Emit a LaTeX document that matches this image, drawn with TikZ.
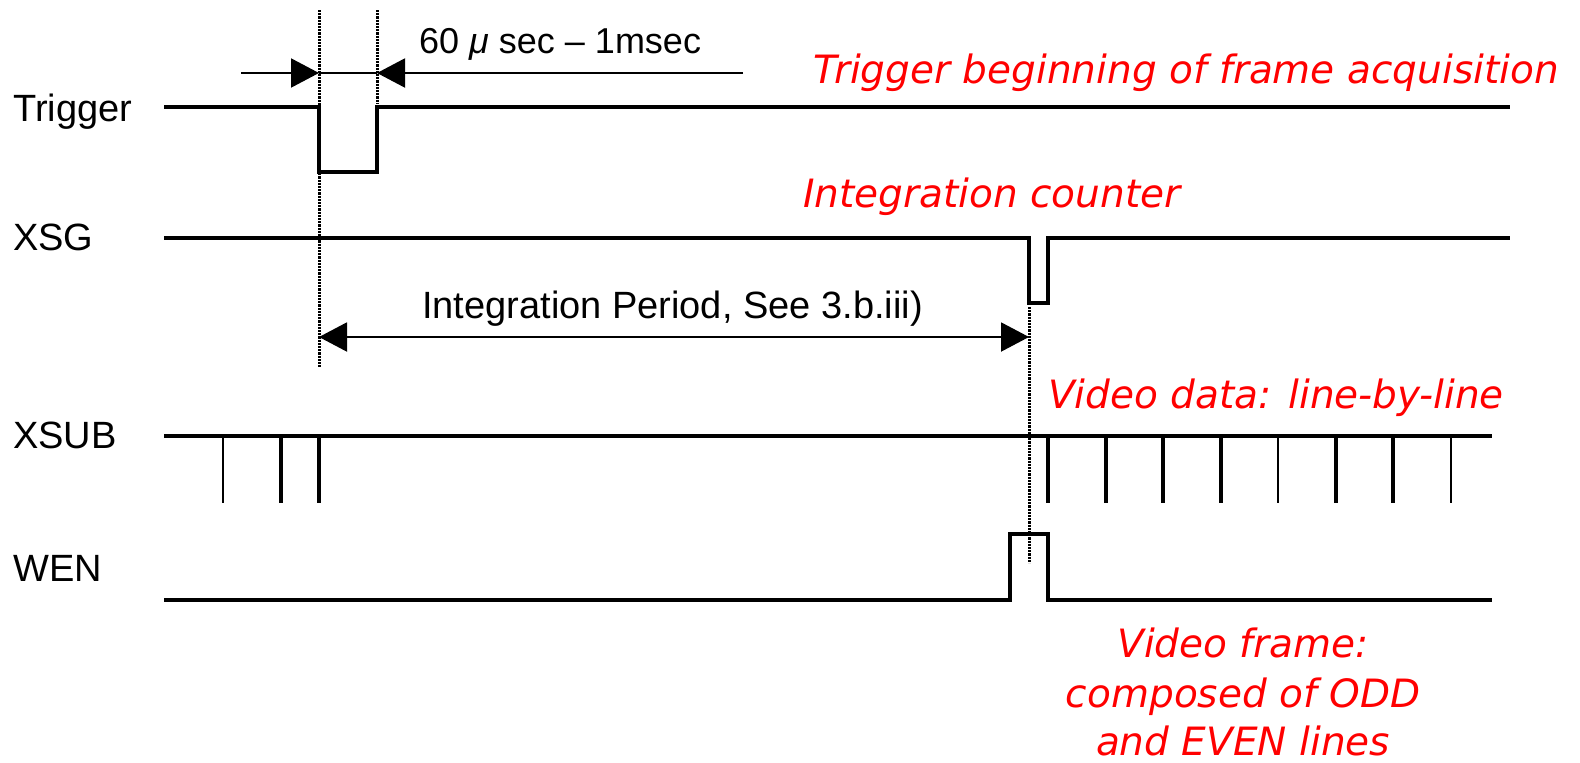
\documentclass[tikz,border=0pt]{standalone}
\usepackage{fontspec}
\setmainfont{Liberation Sans}
\newfontfamily\redfont{DejaVu Sans}
\usetikzlibrary{arrows.meta}
\tikzset{
  wave/.style={line width=3.8pt, line join=miter, line cap=butt},
  guide/.style={line width=3pt, dash pattern=on 2.2pt off 1pt},
  dim/.style={line width=2pt},
  tip/.tip={Triangle[length=28pt,width=29pt]},
  lbl/.style={font=\fontsize{38}{44}\selectfont, inner sep=0pt, anchor=base west},
  note/.style={font=\redfont\itshape\fontsize{39}{49}\selectfont, text=red, inner sep=0pt}
}
\begin{document}
\begin{tikzpicture}[x=1pt,y=-1pt]
\useasboundingbox[fill=white] (0,0) rectangle (1580,763);

% signal labels
\node[lbl] (lTrig) at (13,121) {Trigger};
\node[lbl] (lXSG)  at (13,250) {XSG};
\node[lbl] (lXSUB) at (13,448) {XSUB};
\node[lbl] (lWEN)  at (13,581) {WEN};

% guide lines (dotted)
\coordinate (g1a) at (319,10);  \coordinate (g1b) at (319,368);
\coordinate (g2a) at (377,10);  \coordinate (g2b) at (377,104);
\coordinate (g3a) at (1029,307); \coordinate (g3b) at (1029,563);
\draw[guide] (g1a) -- (g1b);
\draw[guide] (g2a) -- (g2b);
\draw[guide] (g3a) -- (g3b);

% Trigger waveform
\draw[wave] (164,107) -- (319,107) -- (319,172) -- (377,172) -- (377,107) -- (1510,107);
% XSG waveform
\draw[wave] (164,238) -- (1029,238) -- (1029,303) -- (1048,303) -- (1048,238) -- (1510,238);
% XSUB waveform
\draw[wave] (164,436) -- (1492,436);
\foreach \x/\w in {223/2.6,281/3.4,319/3.4,1048/3.4,1106/3.4,1163/3.4,1221/3.4,1278/2.6,1336/3.4,1393/3.4,1451/2.6}
  \draw[line width=\w pt] (\x,436) -- (\x,503);
% WEN waveform
\draw[wave] (164,600) -- (1010,600) -- (1010,534) -- (1048,534) -- (1048,600) -- (1492,600);

% pulse width dimension
\coordinate (d0) at (241,73); \coordinate (d1) at (319,73);
\coordinate (d2) at (377,73); \coordinate (d3) at (743,73);
\draw[dim,-tip] (d0) -- (d1);
\draw[dim] (d1) -- (d2);
\draw[dim,-tip] (d3) -- (d2);
\node[inner sep=0pt, anchor=base west, font=\fontsize{36}{42}\selectfont] (pw) at (419,53) {60 {\itshape μ} sec – 1msec};

% integration period
\coordinate (i0) at (319,337); \coordinate (i1) at (1029,337);
\draw[dim,tip-tip] (i0) -- (i1);
\node[inner sep=0pt, anchor=base west, font=\fontsize{38}{44}\selectfont] (ip) at (422,318) {Integration Period, See 3.b.iii)};

% red annotations
\node[note, anchor=base west] (nTrig) at (813,83) {Trigger beginning of frame acquisition};
\node[note, anchor=base west] (nInt) at (803,207) {Integration counter};
\node[note, anchor=base] (nVid) at (1276,408) {Video data: line-by-line};
\node[note, anchor=base] (nF1) at (1243,657) {Video frame:};
\node[note, anchor=base] (nF2) at (1243,707) {composed of ODD};
\node[note, anchor=base] (nF3) at (1243,755) {and EVEN lines};
\end{tikzpicture}
\end{document}
